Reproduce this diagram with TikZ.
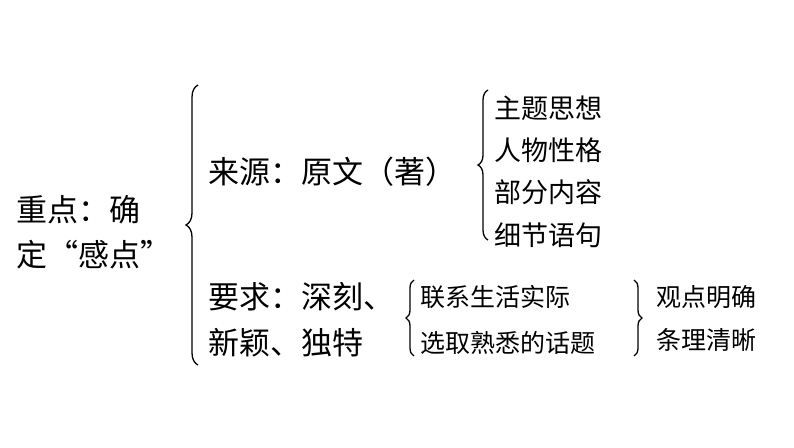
\documentclass[tikz,border=0pt]{standalone}
\usepackage{fontspec}
\setmainfont{Noto Sans CJK SC}
\usetikzlibrary{decorations.pathreplacing}
\begin{document}
\begin{tikzpicture}[x=1pt,y=-1pt,
  big/.style={font=\fontsize{31}{31}\selectfont,anchor=west,inner sep=0},
  mid/.style={font=\fontsize{27}{27}\selectfont,anchor=west,inner sep=0},
  sm/.style={font=\fontsize{25}{25}\selectfont,anchor=west,inner sep=0},
  br/.style={decorate,decoration={brace,amplitude=10pt},line width=1.3pt}]
\useasboundingbox[fill=white] (0,0) rectangle (794,447);
\node[big] (k1) at (16,210) {重点：确};
\node[big] (k2) at (16,255) {定“感点”};
\coordinate (b1t) at (198,85); \coordinate (b1b) at (198,365);
\draw[br,decoration={amplitude=12pt}] (b1b) -- (b1t);
\node[big] (s1) at (208,172) {来源：原文（著）};
\coordinate (b2t) at (488,90); \coordinate (b2b) at (488,240);
\draw[br] (b2b) -- (b2t);
\node[mid] (l1) at (494,108) {主题思想};
\node[mid] (l2) at (494,150) {人物性格};
\node[mid] (l3) at (494,192) {部分内容};
\node[mid] (l4) at (494,235) {细节语句};
\node[big] (r1) at (208,297) {要求：深刻、};
\node[big] (r2) at (208,343) {新颖、独特};
\coordinate (b3t) at (414,280); \coordinate (b3b) at (414,356);
\draw[br,decoration={amplitude=8pt}] (b3b) -- (b3t);
\node[sm] (m1) at (420,297) {联系生活实际};
\node[sm] (m2) at (420,343) {选取熟悉的话题};
\coordinate (b4t) at (634,280); \coordinate (b4b) at (634,356);
\draw[br,decoration={amplitude=8pt}] (b4t) -- (b4b);
\node[sm] (n1) at (656,297) {观点明确};
\node[sm] (n2) at (656,340) {条理清晰};
\end{tikzpicture}
\end{document}
